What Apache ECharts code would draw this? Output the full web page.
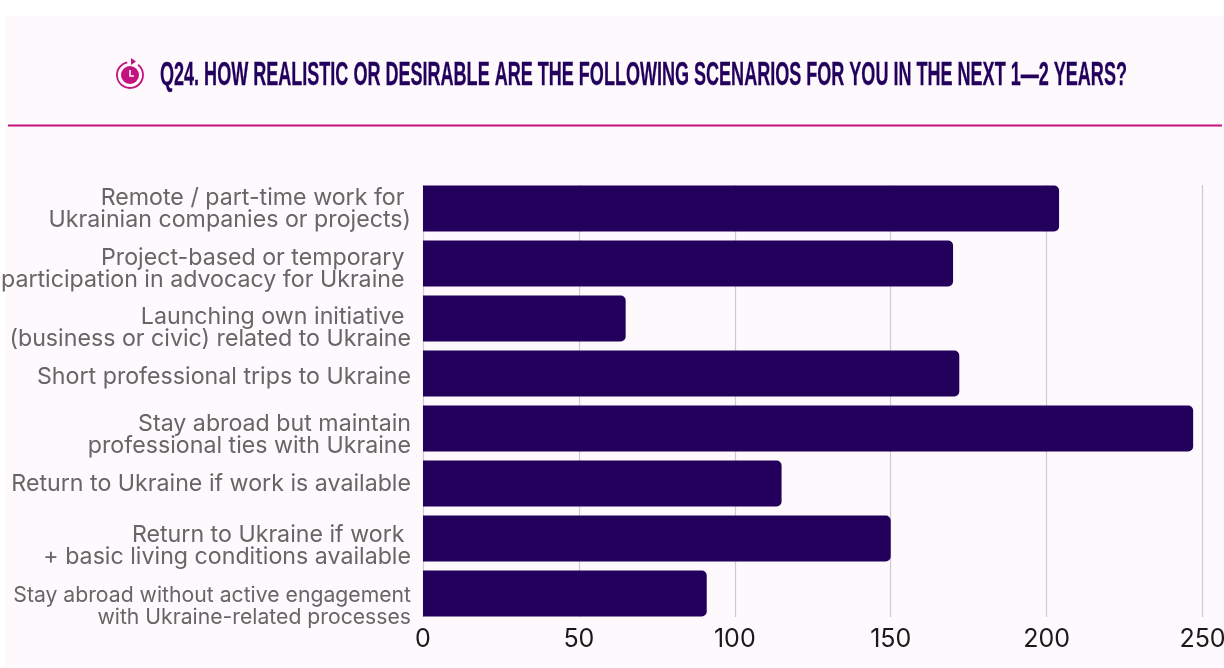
<!DOCTYPE html>
<html>
<head>
<meta charset="utf-8">
<style>html,body{margin:0;padding:0;background:#fff}#chart{width:1224px;height:668px}</style>
<script src="https://cdn.jsdelivr.net/npm/echarts@6/dist/echarts.min.js"></script>
</head>
<body>
<div id="chart"></div>
<script>
const categories = [
  'Remote / part-time work for \nUkrainian companies or projects)',
  'Project-based or temporary \nparticipation in advocacy for Ukraine ',
  'Launching own initiative \n(business or civic) related to Ukraine',
  'Short professional trips to Ukraine',
  'Stay abroad but maintain\nprofessional ties with Ukraine',
  'Return to Ukraine if work is available',
  'Return to Ukraine if work \n+ basic living conditions available',
  'Stay abroad without active engagement\nwith Ukraine-related processes'
];
const responses = [204, 170, 65, 172, 247, 115, 150, 91];
const axisTicks = { min: 0, max: 250, interval: 50 };
const titleText = 'Q24. HOW REALISTIC OR DESIRABLE ARE THE FOLLOWING SCENARIOS FOR YOU IN THE NEXT 1\u20142 YEARS?';

// Vertical drop of each label below its bar's centre, and its font size.
const labelDrop = [1, 6, 10, 4, 7, 1, 8, 13];
const labelSize = [23.2, 23.2, 23.2, 23.2, 23.2, 23.2, 23.2, 21.2];

const PURPLE = '#22005c';
const MAGENTA = '#c4127f';
const PANEL = '#fdf9fd';

// Each label gets an empty spacer line above it: twice the drop, since the block stays centred.
const labelRich = {};
labelDrop.forEach((drop, i) => {
  labelRich['gap' + i] = { fontSize: 1, lineHeight: drop * 2, color: 'transparent' };
  labelRich['text' + i] = {
    fontFamily: 'Inter', fontSize: labelSize[i], lineHeight: 22, color: '#666666', align: 'right'
  };
});
const formatLabel = (value, index) =>
  ['{gap' + index + '| }']
    .concat(String(value).split('\n').map(line => '{text' + index + '|' + line + '}'))
    .join('\n');

const chart = echarts.init(document.getElementById('chart'), null, { renderer: 'canvas' });
chart.setOption({
  animation: false,
  backgroundColor: '#ffffff',
  grid: { left: 423, right: 21.5, top: 181, bottom: 47, containLabel: false, outerBoundsMode: 'none' },
  xAxis: {
    type: 'value',
    min: axisTicks.min, max: axisTicks.max, interval: axisTicks.interval,
    axisLine: { show: false }, axisTick: { show: false },
    splitLine: { show: true, lineStyle: { color: '#cdcbd0', width: 1.2 } },
    axisLabel: { color: '#1a1a1a', fontFamily: 'Inter', fontSize: 25, margin: 6, hideOverlap: false }
  },
  yAxis: {
    type: 'category', inverse: true, data: categories,
    axisLine: { show: false }, axisTick: { show: false },
    axisLabel: {
      formatter: formatLabel, rich: labelRich,
      margin: 12, interval: 0, align: 'right'
    }
  },
  series: [{
    type: 'bar', data: responses, barWidth: 46,
    itemStyle: { color: PURPLE, borderRadius: [0, 5, 5, 0] }, z: 3
  }],
  graphic: [
    { type: 'rect', z: -10, silent: true, shape: { x: 5.5, y: 16, width: 1219, height: 651 }, style: { fill: PANEL } },
    // Gridlines only span the extent of the bars.
    { type: 'rect', z: 1, silent: true, shape: { x: 415, y: 617, width: 800, height: 5 }, style: { fill: PANEL } },
    { type: 'rect', z: 1, silent: true, shape: { x: 415, y: 180, width: 800, height: 5 }, style: { fill: PANEL } },
    { type: 'rect', z: 100, silent: true, shape: { x: 8, y: 124.5, width: 1214, height: 2 }, style: { fill: MAGENTA } },
    { type: 'text', z: 100, silent: true, x: 160, y: 76, scaleX: 0.5465,
      style: { text: titleText, fontFamily: 'Liberation Sans', fontWeight: 'bold', fontSize: 33, fill: PURPLE, stroke: PURPLE, lineWidth: 0.3, align: 'left', verticalAlign: 'middle' } },
    { type: 'circle', z: 100, silent: true, shape: { cx: 130, cy: 75, r: 9 }, style: { fill: MAGENTA } },
    { type: 'arc', z: 100, silent: true, shape: { cx: 130, cy: 75, r: 13, startAngle: -0.9, endAngle: 4.5 }, style: { stroke: MAGENTA, lineWidth: 1.8, fill: 'none' } },
    { type: 'polygon', z: 100, silent: true, shape: { points: [[131, 58], [136, 61.5], [131, 65]] }, style: { fill: MAGENTA } },
    { type: 'polyline', z: 101, silent: true, shape: { points: [[130, 70], [130, 76], [134, 76]] }, style: { stroke: PANEL, lineWidth: 1.6, fill: 'none' } }
  ]
});
</script>
</body>
</html>
